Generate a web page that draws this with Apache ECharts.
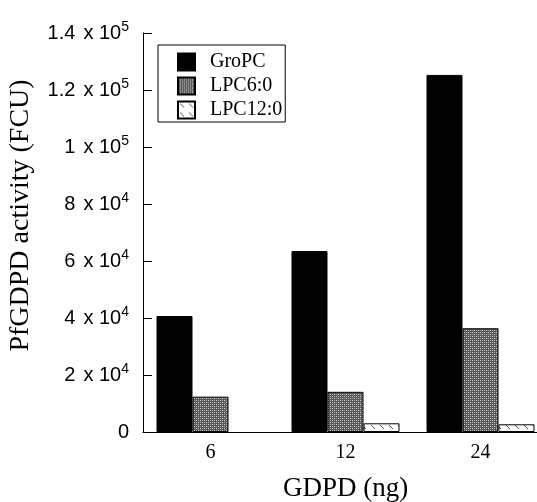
<!DOCTYPE html>
<html>
<head>
<meta charset="utf-8">
<script src="https://cdn.jsdelivr.net/npm/echarts@6/dist/echarts.min.js"></script>
<style>
  html, body { margin: 0; padding: 0; background: #fff; }
  #chart { width: 537px; height: 502px; }
</style>
</head>
<body>
<div id="chart"></div>
<script>
// GDPD amount (ng) on the x axis
const categories = ['6', '12', '24'];
// PfGDPD activity (FCU) per lipid
const groPC = [40700, 63500, 125300];
const lpc6 = [12400, 14100, 36400];
const lpc12 = [null, 3050, 2700];
// y tick labels: coefficient and power of ten
const yTickCoef = ['0', '2', '4', '6', '8', '1', '1.2', '1.4'];
const yTickExp = ['', '4', '4', '4', '4', '5', '5', '5'];

function makeCheckerPattern() {
  const c = document.createElement('canvas');
  c.width = 4; c.height = 4;
  const g = c.getContext('2d');
  g.fillStyle = '#5a5a5a';
  g.fillRect(0, 0, 4, 4);
  g.fillStyle = '#d8d8d8';
  g.fillRect(0, 0, 1, 1);
  g.fillRect(2, 2, 1, 1);
  g.fillStyle = '#9a9a9a';
  g.fillRect(2, 0, 1, 1);
  g.fillRect(0, 2, 1, 1);
  return c;
}

function makeHatchPattern() {
  const c = document.createElement('canvas');
  c.width = 9; c.height = 9;
  const g = c.getContext('2d');
  g.fillStyle = '#ffffff';
  g.fillRect(0, 0, 9, 9);
  g.strokeStyle = '#555';
  g.lineWidth = 1;
  g.beginPath();
  g.moveTo(2, 2);
  g.lineTo(6, 6);
  g.stroke();
  return c;
}

const chart = echarts.init(document.getElementById('chart'), null, { renderer: 'canvas' });

const serif = '"Liberation Serif", "Times New Roman", serif';
const sans = '"Liberation Sans", Arial, sans-serif';

const option = {
  backgroundColor: '#ffffff',
  animation: false,
  grid: { left: 143, top: 33, width: 405, height: 399, containLabel: false, outerBoundsMode: 'none' },
  legend: {
    orient: 'vertical',
    left: 158,
    top: 45,
    padding: [7, 3, 2, 19],
    itemGap: 4,
    itemWidth: 17,
    itemHeight: 17,
    icon: 'rect',
    borderColor: '#000',
    borderWidth: 1,
    textStyle: { fontFamily: serif, fontSize: 20, lineHeight: 17, color: '#000', padding: [0, 0, 0, 10] },
    data: ['GroPC', 'LPC6:0', 'LPC12:0']
  },
  xAxis: {
    type: 'category',
    data: categories,
    axisLine: { lineStyle: { color: '#000', width: 1 } },
    axisTick: { show: false },
    axisLabel: { fontFamily: serif, fontSize: 20, color: '#000', margin: 11 },
    name: 'GDPD (ng)',
    nameLocation: 'middle',
    nameGap: 43,
    nameTextStyle: { fontFamily: serif, fontSize: 27, color: '#000' }
  },
  yAxis: {
    type: 'value',
    min: 0,
    max: 140000,
    interval: 20000,
    splitLine: { show: false },
    axisLine: { show: true, lineStyle: { color: '#000', width: 1 } },
    axisTick: { show: true, inside: true, length: 9, lineStyle: { color: '#000' } },
    axisLabel: {
      margin: 14,
      formatter: function (v) {
        const i = Math.round(v / 20000);
        if (!yTickExp[i]) return '{b|' + yTickCoef[i] + '}';
        return '{b|' + yTickCoef[i] + '}{g|}{b|x 10}{s|' + yTickExp[i] + '}';
      },
      rich: {
        b: { fontFamily: sans, fontSize: 20, color: '#000' },
        g: { width: 8, height: 1 },
        s: { fontFamily: sans, fontSize: 14, color: '#000', verticalAlign: 'top', padding: [0, 0, 11, 0] }
      }
    },
    name: 'PfGDPD activity (FCU)',
    nameLocation: 'middle',
    nameGap: 108,
    nameTextStyle: { fontFamily: serif, fontSize: 28, color: '#000', padding: [0, 0, 0, 34] }
  },
  series: [
    {
      name: 'GroPC', type: 'bar', data: groPC, barWidth: 36, barGap: '0%',
      itemStyle: { color: '#000', borderColor: '#000', borderWidth: 1 }
    },
    {
      name: 'LPC6:0', type: 'bar', data: lpc6, barWidth: 36, barGap: '0%',
      itemStyle: { color: { image: makeCheckerPattern(), repeat: 'repeat' }, borderColor: '#000', borderWidth: 1 }
    },
    {
      name: 'LPC12:0', type: 'bar', data: lpc12, barWidth: 36, barGap: '0%',
      itemStyle: { color: { image: makeHatchPattern(), repeat: 'repeat' }, borderColor: '#000', borderWidth: 1 }
    }
  ]
};

chart.setOption(option);
</script>
</body>
</html>
